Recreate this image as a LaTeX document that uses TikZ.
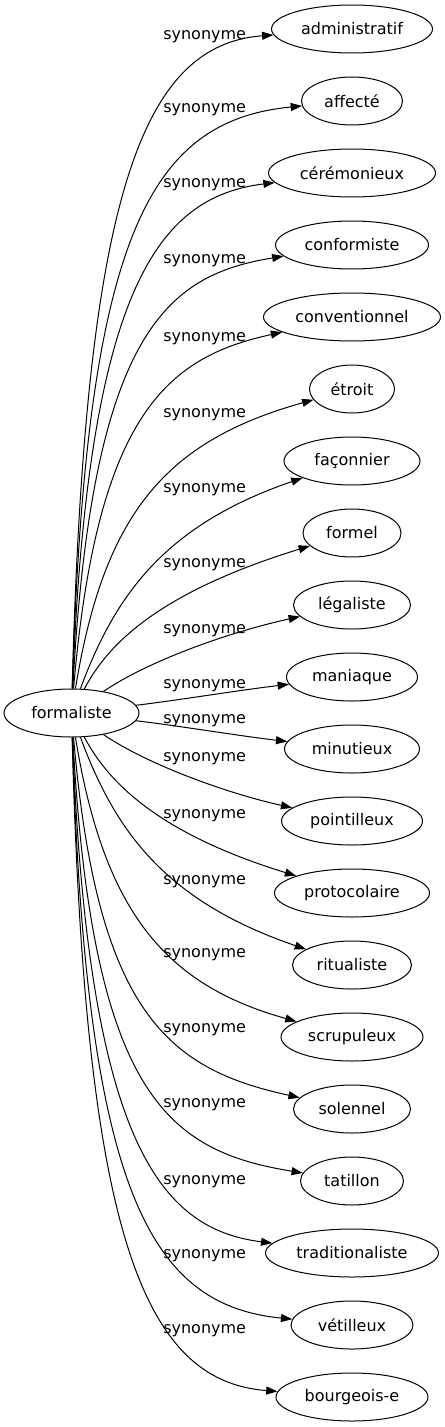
\documentclass[tikz,border=0pt]{standalone}
\usepackage{fontspec}
\setmainfont{DejaVu Sans}
\usetikzlibrary{shapes.geometric,arrows.meta}
\begin{document}
\begin{tikzpicture}[x=0.75pt,y=-0.75pt,
  every node/.style={font=\fontsize{12pt}{14pt}\selectfont},
  word/.style={ellipse, draw, line width=0.75pt, inner sep=0pt, minimum height=36pt, minimum width=#1},
  rel/.style={anchor=base west, inner sep=0pt},
  syn/.style={draw, line width=0.75pt, -{Triangle[length=8.5pt,width=6pt]}}]
\useasboundingbox (0,0) rectangle (445,1427);
% source
\node[word=101.25pt] (f) at (71.5,713) {formaliste};
% targets
\node[word=120.75pt] (t1)  at (352,29)   {administratif};
\node[word=75.75pt]  (t2)  at (352,101)  {affecté};
\node[word=125.25pt] (t3)  at (352,173)  {cérémonieux};
\node[word=114.75pt] (t4)  at (352,245)  {conformiste};
\node[word=132.75pt] (t5)  at (352,317)  {conventionnel};
\node[word=63.75pt]  (t6)  at (352,389)  {étroit};
\node[word=102pt]    (t7)  at (352,461)  {façonnier};
\node[word=73.5pt]   (t8)  at (352,533)  {formel};
\node[word=87.75pt]  (t9)  at (352,605)  {légaliste};
\node[word=98.25pt]  (t10) at (352,677)  {maniaque};
\node[word=101.25pt] (t11) at (352,749)  {minutieux};
\node[word=105.75pt] (t12) at (352,821)  {pointilleux};
\node[word=116.25pt] (t13) at (352,893)  {protocolaire};
\node[word=89.25pt]  (t14) at (352,965)  {ritualiste};
\node[word=106.5pt]  (t15) at (352,1037) {scrupuleux};
\node[word=87.75pt]  (t16) at (352,1109) {solennel};
\node[word=77.25pt]  (t17) at (352,1181) {tatillon};
\node[word=129.75pt] (t18) at (352,1253) {traditionaliste};
\node[word=91.5pt]   (t19) at (352,1325) {vétilleux};
\node[word=114pt]    (t20) at (352,1397) {bourgeois-e};
% connectors
\draw[syn] (f) .. controls (85,200)  and (140,45)  .. (t1);
\draw[syn] (f) .. controls (86,238)  and (148,121) .. (t2);
\draw[syn] (f) .. controls (88,288)  and (158,197) .. (t3);
\draw[syn] (f) .. controls (92,330)  and (168,275) .. (t4);
\draw[syn] (f) .. controls (97,413)  and (168,357) .. (t5);
\draw[syn] (f) .. controls (104,513) and (166,441) .. (t6);
\draw[syn] (f) .. controls (115,595) and (165,525) .. (t7);
\draw[syn] (f) .. controls (105,650) and (150,595) .. (t8);
\draw[syn] (f) .. controls (150,660) and (230,632) .. (t9);
\draw[syn] (f) .. controls (180,700) and (240,690) .. (t10);
\draw[syn] (f) .. controls (180,726) and (240,736) .. (t11);
\draw[syn] (f) .. controls (150,766) and (230,794) .. (t12);
\draw[syn] (f) .. controls (105,776) and (150,831) .. (t13);
\draw[syn] (f) .. controls (115,831) and (165,901) .. (t14);
\draw[syn] (f) .. controls (104,913) and (166,985) .. (t15);
\draw[syn] (f) .. controls (97,1013) and (168,1069) .. (t16);
\draw[syn] (f) .. controls (92,1096) and (168,1151) .. (t17);
\draw[syn] (f) .. controls (88,1138) and (158,1229) .. (t18);
\draw[syn] (f) .. controls (86,1188) and (148,1305) .. (t19);
\draw[syn] (f) .. controls (85,1226) and (140,1381) .. (t20);
% labels
\node[rel] (l1)  at (163,40)   {synonyme};
\node[rel] (l2)  at (163,113)  {synonyme};
\node[rel] (l3)  at (163,187)  {synonyme};
\node[rel] (l4)  at (163,263)  {synonyme};
\node[rel] (l5)  at (163,341)  {synonyme};
\node[rel] (l6)  at (163,417)  {synonyme};
\node[rel] (l7)  at (163,492)  {synonyme};
\node[rel] (l8)  at (163,567)  {synonyme};
\node[rel] (l9)  at (163,633)  {synonyme};
\node[rel] (l10) at (163,688)  {synonyme};
\node[rel] (l11) at (163,723)  {synonyme};
\node[rel] (l12) at (163,761)  {synonyme};
\node[rel] (l13) at (163,818)  {synonyme};
\node[rel] (l14) at (163,884)  {synonyme};
\node[rel] (l15) at (163,957)  {synonyme};
\node[rel] (l16) at (163,1032) {synonyme};
\node[rel] (l17) at (163,1107) {synonyme};
\node[rel] (l18) at (163,1184) {synonyme};
\node[rel] (l19) at (163,1258) {synonyme};
\node[rel] (l20) at (163,1333) {synonyme};
\end{tikzpicture}
\end{document}
